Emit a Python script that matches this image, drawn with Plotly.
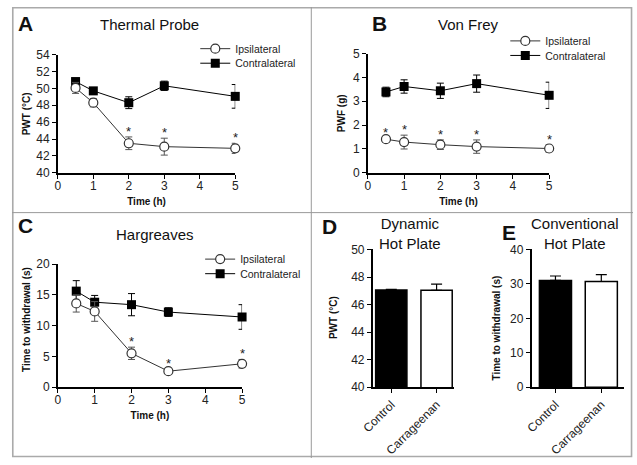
import plotly.graph_objects as go

W, H = 637, 465
FONT = "Arial, Liberation Sans, Helvetica, sans-serif"

# ---------------- data ----------------
time_h = [0.5, 1, 2, 3, 5]
time_ticks = [0, 1, 2, 3, 4, 5]

a_ipsi = [50.05, 48.3, 43.5, 43.1, 42.9]
a_ipsi_err = [0.65, 0.5, 0.75, 1.0, 0.6]
a_contra = [50.8, 49.7, 48.3, 50.3, 49.05]
a_contra_err = [0.4, 0.3, 0.7, 0.55, 1.4]
a_sig = [2, 3, 5]

b_ipsi = [1.41, 1.29, 1.18, 1.10, 1.02]
b_ipsi_err = [0.06, 0.29, 0.2, 0.28, 0.16]
b_contra = [3.39, 3.62, 3.44, 3.74, 3.25]
b_contra_err = [0.2, 0.28, 0.32, 0.36, 0.55]
b_sig = [0.5, 1, 2, 3, 5]

c_ipsi = [13.6, 12.3, 5.5, 2.6, 3.8]
c_ipsi_err = [1.4, 1.6, 1.0, 0.3, 0.7]
c_contra = [15.6, 13.8, 13.4, 12.2, 11.4]
c_contra_err = [1.7, 1.1, 1.8, 0.7, 2.0]
c_sig = [2, 3, 5]

groups = ["Control", "Carrageenan"]
d_vals = [47.05, 47.03]
d_err = [0.05, 0.45]
e_vals = [31.0, 30.7]
e_err = [1.3, 2.0]

# ---------------- helpers ----------------
def dx(a, b):
    return [a / W, b / W]

def dy(top, bottom):
    return [1 - bottom / H, 1 - top / H]

def px(x):
    return x / W

def py(y):
    return 1 - y / H

fig = go.Figure()

IPSI_COL = "#333333"
IPSI_ERR = "#555555"

def add_pair(xa, ya, ipsi, ipsi_err, contra, contra_err, leg_i, leg_c):
    fig.add_trace(go.Scatter(
        x=time_h, y=contra, mode="lines+markers", name="Contralateral",
        xaxis=xa, yaxis=ya, legend=leg_c, cliponaxis=False,
        line=dict(color="black", width=1),
        marker=dict(symbol="square", size=9, color="black"),
        error_y=dict(type="data", array=contra_err, color="black", thickness=1, width=3.5)))
    fig.add_trace(go.Scatter(
        x=time_h, y=ipsi, mode="lines+markers", name="Ipsilateral",
        xaxis=xa, yaxis=ya, legend=leg_i, cliponaxis=False,
        line=dict(color=IPSI_COL, width=1),
        marker=dict(symbol="circle", size=9, color="white",
                    line=dict(color=IPSI_COL, width=1.2)),
        error_y=dict(type="data", array=ipsi_err, color=IPSI_ERR, thickness=1, width=3.5)))

add_pair("x", "y", a_ipsi, a_ipsi_err, a_contra, a_contra_err, "legend", "legend2")
add_pair("x2", "y2", b_ipsi, b_ipsi_err, b_contra, b_contra_err, "legend3", "legend4")
add_pair("x3", "y3", c_ipsi, c_ipsi_err, c_contra, c_contra_err, "legend5", "legend6")

# bars
fig.add_trace(go.Bar(
    x=groups, y=d_vals, xaxis="x4", yaxis="y4", width=0.69, showlegend=False,
    marker=dict(color=["black", "white"], line=dict(color="black", width=1.5)),
    error_y=dict(type="data", array=d_err, arrayminus=[0, 0], symmetric=False,
                 color="black", thickness=1.2, width=5.5)))
fig.add_trace(go.Bar(
    x=groups, y=e_vals, xaxis="x5", yaxis="y5", width=0.70, showlegend=False,
    marker=dict(color=["black", "white"], line=dict(color="black", width=1.5)),
    error_y=dict(type="data", array=e_err, arrayminus=[0, 0], symmetric=False,
                 color="black", thickness=1.2, width=5.5)))

# significance stars
ann = []
def stars(xref, yref, sig, vals, errs):
    for t in sig:
        i = time_h.index(t)
        ann.append(dict(x=t, y=vals[i] + errs[i], xref=xref, yref=yref, text="*",
                        showarrow=False, yanchor="bottom", yshift=-4,
                        font=dict(size=13, color="#222", family=FONT)))

stars("x", "y", a_sig, a_ipsi, a_ipsi_err)
stars("x2", "y2", b_sig, b_ipsi, b_ipsi_err)
stars("x3", "y3", c_sig, c_ipsi, c_ipsi_err)

# panel letters, titles and y-axis titles
def label(x, y, text, size, bold=False, angle=0):
    ann.append(dict(x=px(x), y=py(y), xref="paper", yref="paper",
                    text=("<b>%s</b>" % text) if bold else text, showarrow=False,
                    xanchor="center", yanchor="middle", textangle=angle,
                    font=dict(size=size, color="#111", family=FONT)))

label(14, 17, "A", 21, True)
label(141, 18, "Thermal Probe", 15)
label(377, 17, "B", 21, True)
label(468, 18, "Von Frey", 15)
label(14, 225, "C", 21, True)
label(147, 235, "Hargreaves", 15)
label(326, 226, "D", 21, True)
label(408, 234, "Dynamic<br>Hot Plate", 15)
label(510, 233, "E", 21, True)
label(578, 234, "Conventional<br>Hot Plate", 15)

label(15, 110, "PWT (°C)", 10, True, -90)
label(338, 110, "PWF (g)", 10, True, -90)
label(15, 322, "Time to withdrawal (s)", 10, True, -90)
label(330, 320, "PWT (°C)", 10, True, -90)
label(497, 331, "Time to withdrawal (s)", 10, True, -90)

tickfont = dict(size=12, color="#222", family=FONT)
titlefont = dict(size=10, color="#111", family=FONT)

def xaxis_lin(domain, anchor, title):
    return dict(domain=domain, anchor=anchor, range=[0, 5], tickvals=time_ticks,
                showgrid=False, zeroline=False, showline=True, linecolor="black",
                linewidth=1.6, ticks="outside", ticklen=4, tickwidth=1.4,
                tickcolor="black", tickfont=tickfont, ticklabelstandoff=-3,
                title=dict(text="<b>%s</b>" % title, font=titlefont, standoff=6))

def yaxis_lin(domain, anchor, rng, dtick):
    return dict(domain=domain, anchor=anchor, range=rng, dtick=dtick,
                tick0=rng[0], showgrid=False, zeroline=False, showline=True,
                linecolor="black", linewidth=1.6, ticks="outside", ticklen=4,
                tickwidth=1.4, tickcolor="black", tickfont=tickfont)

def xaxis_cat(domain, anchor, rng):
    return dict(domain=domain, anchor=anchor, type="category", range=rng,
                showgrid=False, zeroline=False, showline=True, linecolor="black",
                linewidth=1.6, ticks="outside", ticklen=4, tickwidth=1.4,
                tickcolor="black", tickfont=tickfont, tickangle=-45)

def leg(x_marker, y_center):
    return dict(x=px(x_marker - 28), y=py(y_center - 18), xanchor="left", yanchor="top",
                bgcolor="rgba(0,0,0,0)", font=dict(size=10.5, color="#222", family=FONT),
                itemwidth=30)

fig.update_layout(
    width=W, height=H, margin=dict(l=0, r=0, t=0, b=0),
    paper_bgcolor="white", plot_bgcolor="white",
    font=dict(family=FONT, color="#111"),
    hovermode=False,
    xaxis=xaxis_lin(dx(47, 229), "y", "Time (h)"),
    yaxis=yaxis_lin(dy(49, 171), "x", [40, 54], 2),
    xaxis2=xaxis_lin(dx(365, 551), "y2", "Time (h)"),
    yaxis2=yaxis_lin(dy(48, 171), "x2", [0, 5], 1),
    xaxis3=xaxis_lin(dx(47, 236), "y3", "Time (h)"),
    yaxis3=yaxis_lin(dy(265, 392), "x3", [0, 20], 5),
    xaxis4=xaxis_cat(dx(370, 453), "y4", [-0.41, 1.376]),
    yaxis4=yaxis_lin(dy(250, 392), "x4", [40, 50], 2),
    xaxis5=xaxis_cat(dx(533, 628), "y5", [-0.52, 1.5]),
    yaxis5=yaxis_lin(dy(250, 392), "x5", [0, 40], 10),
    legend=leg(216, 46),
    legend2=leg(216, 61),
    legend3=leg(534, 38),
    legend4=leg(534, 53),
    legend5=leg(221, 263),
    legend6=leg(221, 278),
    annotations=ann,
    shapes=[
        dict(type="rect", xref="paper", yref="paper", x0=px(0.8), x1=px(635.5),
             y0=py(463.5), y1=py(0.8), line=dict(color="#aaaaaa", width=1.6)),
        dict(type="line", xref="paper", yref="paper", x0=px(307), x1=px(307),
             y0=0, y1=1, line=dict(color="#999999", width=1)),
        dict(type="line", xref="paper", yref="paper", x0=0, x1=1,
             y0=py(212), y1=py(212), line=dict(color="#999999", width=1)),
    ],
)

fig.write_html("out.html", config={"displayModeBar": False},
               post_script="document.body.style.margin='0';document.body.style.padding='0';")
